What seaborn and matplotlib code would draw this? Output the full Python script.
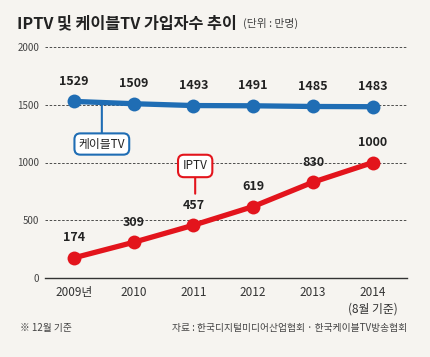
import matplotlib
matplotlib.use("Agg")
import matplotlib.pyplot as plt
import seaborn as sns
import pandas as pd

years = ["2009년", "2010", "2011", "2012", "2013", "2014\n(8월 기준)"]
cable = [1529, 1509, 1493, 1491, 1485, 1483]
iptv = [174, 309, 457, 619, 830, 1000]
yticks = [0, 500, 1000, 1500, 2000]

sns.set_style("white")
plt.rcParams['font.family'] = ['Noto Sans CJK KR', 'DejaVu Sans']

BG = "#f6f4f0"
BLUE = "#1f6db4"
RED = "#e3141c"

df = pd.DataFrame({"x": range(len(years)), "cable": cable, "iptv": iptv})

fig = plt.figure(figsize=(4.3, 3.57), dpi=100, facecolor=BG)
W, H = 430, 357
ax = fig.add_axes([45 / W, (H - 278) / H, (407 - 45) / W, (278 - 47) / H])
ax.set_facecolor(BG)

sns.lineplot(data=df, x="x", y="cable", color=BLUE, lw=3.8, marker="o",
             markersize=10, markeredgewidth=0, ax=ax, clip_on=False, zorder=4)
sns.lineplot(data=df, x="x", y="iptv", color=RED, lw=3.8, marker="o",
             markersize=10, markeredgewidth=0, ax=ax, clip_on=False, zorder=4)

ax.set_xlim(-0.48, 5.57)
ax.set_ylim(0, 2000)
ax.set_yticks(yticks)
ax.set_yticklabels([str(v) for v in yticks], fontsize=7, color="#444444")
ax.set_xticks(range(len(years)))
ax.set_xticklabels(years, fontsize=8.5, color="#333333", linespacing=1.3)
ax.set_xlabel("")
ax.set_ylabel("")
for s in ["top", "right", "left"]:
    ax.spines[s].set_visible(False)
ax.spines["bottom"].set_color("#333333")
ax.spines["bottom"].set_linewidth(1.0)
ax.tick_params(axis="x", direction="in", length=6, color="#333333", pad=6)
ax.tick_params(axis="y", length=0, pad=4)
for v in yticks[1:]:
    ax.axhline(v, color="#333333", lw=0.6, ls=(0, (3, 2)), zorder=1)

for i, v in enumerate(cable):
    ax.annotate(str(v), (i, v), xytext=(0, 20), textcoords="offset pixels",
                ha="center", va="center", fontsize=9, fontweight="bold",
                color="#222222", zorder=6)
for i, v in enumerate(iptv):
    ax.annotate(str(v), (i, v), xytext=(0, 20), textcoords="offset pixels",
                ha="center", va="center", fontsize=9, fontweight="bold",
                color="#222222", zorder=6)

# callouts
ax.annotate("케이블TV", xy=(0.47, 1505), xytext=(0.47, 1160),
            ha="center", va="center", fontsize=8.5, color="#222222", zorder=7,
            bbox=dict(boxstyle="round,pad=0.35,rounding_size=0.5", fc="white",
                      ec=BLUE, lw=1.5),
            arrowprops=dict(arrowstyle="-", color=BLUE, lw=1.5, shrinkA=0, shrinkB=0))
ax.annotate("IPTV", xy=(2.03, 730), xytext=(2.03, 970),
            ha="center", va="center", fontsize=8.5, color="#222222", zorder=7,
            bbox=dict(boxstyle="round,pad=0.4,rounding_size=0.5", fc="white",
                      ec=RED, lw=1.5),
            arrowprops=dict(arrowstyle="-", color=RED, lw=1.5, shrinkA=0, shrinkB=0))

fig.text(17 / W, 1 - 23 / H, "IPTV 및 케이블TV 가입자수 추이", fontsize=11.7,
         fontweight="bold", color="#222222", va="center", ha="left")
fig.text(243 / W, 1 - 23 / H, "(단위 : 만명)", fontsize=7.8, color="#444444",
         va="center", ha="left")
fig.text(20 / W, 1 - 328 / H, "※ 12월 기준", fontsize=7, color="#444444",
         va="center", ha="left")
fig.text(407 / W, 1 - 328 / H, "자료 : 한국디지털미디어산업협회 · 한국케이블TV방송협회",
         fontsize=7, color="#444444", va="center", ha="right")

fig.savefig("out.png", dpi=100, facecolor=BG)
